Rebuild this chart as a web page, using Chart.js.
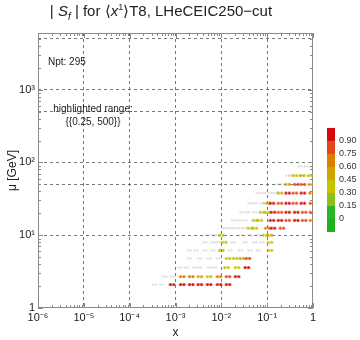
<!DOCTYPE html>
<html>
<head>
<meta charset="utf-8">
<script src="https://cdn.jsdelivr.net/npm/chart.js@4.4.1/dist/chart.umd.min.js"></script>
<style>
  html, body { margin: 0; padding: 0; background: #fff; }
  #wrap { position: relative; width: 360px; height: 340px; }
  #sf-chart { position: absolute; left: 0; top: 0; }
  #title {
    position: absolute; left: 0; top: 2px; width: 322px; text-align: center;
    font: 15px "Liberation Sans", Arial, sans-serif; color: #222; white-space: nowrap;
  }
  #title sub { font-size: 10px; }
  #title sup { font-size: 9px; }
</style>
</head>
<body>
<div id="wrap">
  <canvas id="sf-chart" width="360" height="340"></canvas>
  <div id="title">| <i>S<sub>f</sub></i> | for ⟨<i>x</i><sup>1</sup>⟩T8, LHeCEIC250−cut</div>
</div>
<script>
// rows of points: mu [GeV], x values and |S_f| per point
const muRows = [2.1, 2.7, 3.6, 4.8, 6.2, 8.0, 10, 12.5, 16, 20.7, 27.5, 38, 50, 66, 88];

const xRows = [
    [3.5e-4, 5.0e-4, 8.4e-4, 1.4e-3, 2.2e-3, 3.4e-3, 5.4e-3, 8.9e-3, 1.4e-2],
    [5.9e-4, 8.4e-4, 1.4e-3, 2.2e-3, 3.4e-3, 5.4e-3, 8.9e-3, 1.4e-2, 2.2e-2],
    [1.25e-3, 1.7e-3, 2.6e-3, 3.4e-3, 5.4e-3, 7.2e-3, 1.3e-2, 2.2e-2, 3.6e-2],
    [2.0e-3, 3.4e-3, 5.4e-3, 8.5e-3, 1.4e-2, 2.0e-2, 2.8e-2, 3.8e-2],
    [2.0e-3, 2.8e-3, 4.4e-3, 6.6e-3, 1.0e-2, 1.55e-2, 2.6e-2, 4.2e-2, 6.3e-2, 0.115],
    [4.4e-3, 6.6e-3, 8.5e-3, 1.15e-2, 1.8e-2, 3.3e-2, 5.4e-2, 7.7e-2, 0.115],
    [4.8e-3, 6.6e-3, 8.5e-3, 1.0e-2, 2.6e-2, 4.2e-2, 6.3e-2, 8.9e-2, 0.115],
    [1.2e-2, 1.55e-2, 2.0e-2, 2.6e-2, 3.3e-2, 4.2e-2, 5.4e-2, 0.10, 0.134, 0.21],
    [1.8e-2, 2.4e-2, 3.3e-2, 5.4e-2, 6.9e-2, 0.127, 0.19, 0.28, 0.43, 0.64, 0.95],
    [2.8e-2, 3.8e-2, 5.4e-2, 7.7e-2, 0.10, 0.134, 0.19, 0.28, 0.43, 0.64, 0.95],
    [4.2e-2, 5.4e-2, 7.7e-2, 0.089, 0.104, 0.127, 0.19, 0.28, 0.40, 0.60, 0.95],
    [6.3e-2, 8.5e-2, 0.115, 0.148, 0.19, 0.28, 0.40, 0.60, 0.93],
    [0.163, 0.21, 0.28, 0.43, 0.60, 0.90],
    [0.28, 0.33, 0.40, 0.58, 0.86],
    [0.52, 0.70, 0.95],
];

const sfRows = [
    [0.10, 0.12, 0.92, 0.95, 0.93, 0.92, 0.90, 0.93, 0.91],
    [0.10, 0.15, 0.62, 0.60, 0.50, 0.42, 0.62, 0.88, 0.92],
    [0.10, 0.10, 0.10, 0.12, 0.10, 0.15, 0.42, 0.40, 0.90],
    [0.10, 0.10, 0.12, 0.10, 0.40, 0.42, 0.48, 0.85],
    [0.10, 0.10, 0.10, 0.12, 0.40, 0.10, 0.12, 0.10, 0.15, 0.42],
    [0.10, 0.10, 0.12, 0.40, 0.10, 0.10, 0.12, 0.15, 0.42],
    [0.10, 0.10, 0.12, 0.40, 0.10, 0.12, 0.15, 0.40, 0.45],
    [0.10, 0.10, 0.12, 0.10, 0.15, 0.30, 0.32, 0.70, 0.90, 0.88],
    [0.10, 0.12, 0.10, 0.30, 0.35, 0.90, 0.92, 0.88, 0.90, 0.85, 0.70],
    [0.10, 0.10, 0.15, 0.32, 0.35, 0.90, 0.85, 0.92, 0.90, 0.88, 0.80],
    [0.10, 0.12, 0.10, 0.15, 0.40, 0.90, 0.88, 0.92, 0.85, 0.90, 0.75],
    [0.10, 0.10, 0.12, 0.10, 0.55, 0.90, 0.88, 0.92, 0.70],
    [0.10, 0.12, 0.50, 0.88, 0.80, 0.45],
    [0.10, 0.12, 0.35, 0.45, 0.40],
    [0.10, 0.10, 0.12],
];

const highlightMin = 0.25;

const xTickValues = [1e-6, 1e-5, 1e-4, 1e-3, 1e-2, 1e-1, 1];
const xTickLabels = ['10⁻⁶', '10⁻⁵', '10⁻⁴', '10⁻³', '10⁻²', '10⁻¹', '1'];
const yTickValues = [1, 10, 50, 100, 500, 1000, 5000];
const yTickLabels = ['1', '10¹', '', '10²', '', '10³', ''];

const colorbarEdges  = [-0.15, 0, 0.15, 0.30, 0.45, 0.60, 0.75, 0.90, 1.05];
const colorbarColors = ['#1fb01f', '#2db52a', '#8dbf1c', '#c4c400', '#cfa400', '#dc7c00', '#e2461a', '#d40a0a'];
const colorbarTicks  = [0, 0.15, 0.30, 0.45, 0.60, 0.75, 0.90];
const colorbarLabels = ['0', '0.15', '0.30', '0.45', '0.60', '0.75', '0.90'];

const FONT = '"Liberation Sans", Arial, sans-serif';

function colorFor(v) {
    for (let i = colorbarColors.length - 1; i >= 0; i--) {
        if (v >= colorbarEdges[i]) return colorbarColors[i];
    }
    return colorbarColors[0];
}

// each marker is a little pair of dots
const pairCache = {};
function pairImage(color, r, gap) {
    const key = color + r + gap;
    if (pairCache[key]) return pairCache[key];
    const c = document.createElement('canvas');
    c.width = Math.ceil(2 * (gap + r) + 2);
    c.height = Math.ceil(2 * r + 2);
    const g = c.getContext('2d');
    g.fillStyle = color;
    [-gap, gap].forEach(dx => {
        g.beginPath();
        g.arc(c.width / 2 + dx, c.height / 2, r, 0, Math.PI * 2);
        g.fill();
    });
    pairCache[key] = c;
    return c;
}

const points = [];
muRows.forEach((mu, i) => {
    xRows[i].forEach((x, j) => points.push({ x, y: mu, v: sfRows[i][j] }));
});

const frameTicks = {
    id: 'frameTicks',
    beforeDatasetsDraw(chart) {
        const { ctx, chartArea: a, scales } = chart;
        ctx.save();
        ctx.strokeStyle = '#8a8a8a';
        ctx.lineWidth = 1;
        ctx.strokeRect(a.left + 0.5, a.top + 0.5, a.right - a.left - 1, a.bottom - a.top - 1);
        ctx.beginPath();
        for (let d = -6; d <= 0; d++) {
            for (let k = 1; k <= 9; k++) {
                const v = k * Math.pow(10, d);
                if (v > 1) break;
                const px = Math.round(scales.x.getPixelForValue(v)) + 0.5;
                const len = k === 1 ? 5 : 3;
                ctx.moveTo(px, a.bottom); ctx.lineTo(px, a.bottom - len);
                ctx.moveTo(px, a.top); ctx.lineTo(px, a.top + len);
            }
        }
        for (let d = 0; d <= 3; d++) {
            for (let k = 1; k <= 9; k++) {
                const v = k * Math.pow(10, d);
                if (v > scales.y.max) break;
                const py = Math.round(scales.y.getPixelForValue(v)) + 0.5;
                const len = k === 1 ? 5 : 3;
                ctx.moveTo(a.left, py); ctx.lineTo(a.left + len, py);
                ctx.moveTo(a.right, py); ctx.lineTo(a.right - len, py);
            }
        }
        ctx.stroke();

        ctx.fillStyle = '#222';
        ctx.font = '10px ' + FONT;
        ctx.textBaseline = 'middle';
        ctx.textAlign = 'left';
        ctx.fillText('Npt: 295', 48, 62);
        ctx.textAlign = 'center';
        ctx.fillText('highlighted range:', 93, 109);
        ctx.fillText('{{0.25, 500}}', 93, 122);
        ctx.restore();
    },
};

const colorbar = {
    id: 'colorbar',
    afterDraw(chart) {
        const { ctx } = chart;
        const x0 = 327, w = 8, yBottom = 232, pxPerUnit = 86.7;
        const yOf = v => yBottom - (v - colorbarEdges[0]) * pxPerUnit;
        ctx.save();
        colorbarColors.forEach((c, i) => {
            const y1 = yOf(colorbarEdges[i + 1]);
            const y0 = yOf(colorbarEdges[i]);
            ctx.fillStyle = c;
            ctx.fillRect(x0, y1, w, y0 - y1);
        });
        ctx.fillStyle = '#333';
        ctx.font = '9px ' + FONT;
        ctx.textAlign = 'left';
        ctx.textBaseline = 'middle';
        colorbarTicks.forEach((t, i) => ctx.fillText(colorbarLabels[i], x0 + w + 4, yOf(t)));
        ctx.restore();
    },
};

new Chart(document.getElementById('sf-chart'), {
    type: 'scatter',
    data: {
        datasets: [{
            data: points,
            pointStyle: c => {
                const v = c.raw ? c.raw.v : 0;
                return v >= highlightMin ? pairImage(colorFor(v), 1.5, 1.7) : pairImage('#a0a0a0', 0.7, 1.4);
            },
            pointRadius: 3,
        }],
    },
    options: {
        responsive: false,
        animation: false,
        layout: { padding: { top: 33, right: 47, left: 0, bottom: 0 } },
        plugins: { legend: { display: false }, tooltip: { enabled: false } },
        scales: {
            x: {
                type: 'logarithmic',
                min: 1e-6,
                max: 1,
                afterBuildTicks: s => { s.ticks = xTickValues.map(value => ({ value })); },
                afterFit: s => { s.height = 32; },
                ticks: {
                    autoSkip: false, maxRotation: 0, padding: 3, color: '#222',
                    font: { family: FONT, size: 11 },
                    callback: (v, i) => xTickLabels[i],
                },
                grid: {
                    drawTicks: false, lineWidth: 0.8,
                    color: c => (c.index === 0 || c.index === xTickValues.length - 1) ? 'rgba(0,0,0,0)' : '#555',
                },
                border: { display: false, dash: [3, 3] },
                title: { display: true, text: 'x', color: '#222', font: { family: FONT, size: 12 }, padding: { top: 0, bottom: 0 } },
            },
            y: {
                type: 'logarithmic',
                min: 1,
                max: 6000,
                afterBuildTicks: s => { s.ticks = yTickValues.map(value => ({ value })); },
                afterFit: s => { s.width = 38; },
                ticks: {
                    autoSkip: false, padding: 3, color: '#222',
                    font: { family: FONT, size: 11 },
                    callback: (v, i) => yTickLabels[i],
                },
                grid: {
                    drawTicks: false, lineWidth: 0.8,
                    color: c => c.index === 0 ? 'rgba(0,0,0,0)' : '#555',
                },
                border: { display: false, dash: [3, 3] },
                title: { display: true, text: 'μ [GeV]', color: '#222', font: { family: FONT, size: 12 }, padding: { top: 5, bottom: 0 } },
            },
        },
    },
    plugins: [frameTicks, colorbar],
});
</script>
</body>
</html>
